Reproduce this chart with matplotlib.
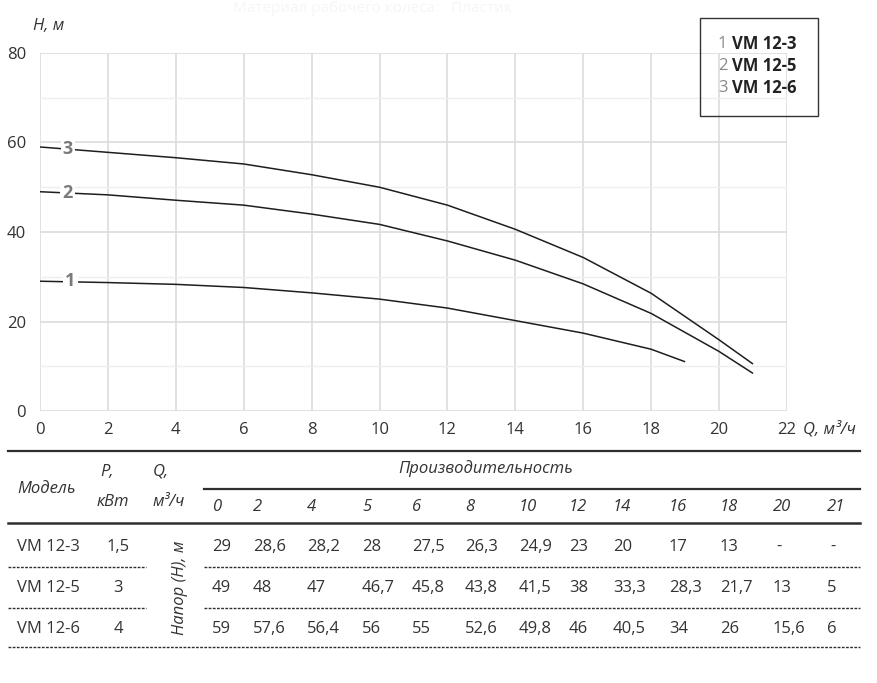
import matplotlib.pyplot as plt
from matplotlib.lines import Line2D
from matplotlib.patches import Rectangle

plt.rcParams['font.family'] = ['Open Sans', 'DejaVu Sans']

# curves
q1 = [0, 2, 4, 6, 8, 10, 12, 14, 16, 18, 19]
h1 = [29.0, 28.7, 28.3, 27.6, 26.4, 25.0, 23.0, 20.2, 17.4, 13.8, 11.0]
q2 = [0, 2, 4, 6, 8, 10, 12, 14, 16, 18, 20, 21]
h2 = [49.0, 48.3, 47.1, 46.0, 44.0, 41.7, 38.0, 33.7, 28.4, 21.8, 13.3, 8.4]
q3 = [0, 2, 4, 6, 8, 10, 12, 14, 16, 18, 20, 21]
h3 = [59.0, 57.8, 56.6, 55.2, 52.8, 50.0, 46.0, 40.6, 34.3, 26.3, 15.9, 10.5]

models = ['VM 12-3', 'VM 12-5', 'VM 12-6']
power = ['1,5', '3', '4']
flows = ['0', '2', '4', '5', '6', '8', '10', '12', '14', '16', '18', '20', '21']
heads = [
    ['29', '28,6', '28,2', '28', '27,5', '26,3', '24,9', '23', '20', '17', '13', '-', '-'],
    ['49', '48', '47', '46,7', '45,8', '43,8', '41,5', '38', '33,3', '28,3', '21,7', '13', '5'],
    ['59', '57,6', '56,4', '56', '55', '52,6', '49,8', '46', '40,5', '34', '26', '15,6', '6'],
]

W, H = 878, 683
fig = plt.figure(figsize=(W / 100, H / 100), dpi=100)
txt = '#333333'


def fx(x):
    return x / W


def fy(y):
    return 1 - y / H


def ftext(x, y, s, **kw):
    kw.setdefault('color', txt)
    kw.setdefault('fontsize', 12)
    fig.text(fx(x), fy(y), s, **kw)


def fline(x0, x1, y, **kw):
    fig.add_artist(Line2D([fx(x0), fx(x1)], [fy(y), fy(y)],
                          transform=fig.transFigure, **kw))


# ---- chart ----
ax = fig.add_axes([fx(40), fy(411), (787 - 40) / W, (411 - 53) / H])
ax.set_xlim(0, 22)
ax.set_ylim(0, 80)
ax.set_xticks(range(0, 23, 2))
ax.set_yticks([0, 20, 40, 60, 80])
ax.set_yticks([10, 30, 50, 70], minor=True)
ax.grid(True, which='major', color='#dcdcdc', lw=1.2)
ax.grid(True, which='minor', axis='y', color='#eeeeee', lw=1.0)
for s in ax.spines.values():
    s.set_visible(False)
ax.tick_params(which='both', length=0)
ax.tick_params(labelsize=12, labelcolor=txt, pad=8)
ax.tick_params(axis='y', pad=10)

for q, h in [(q1, h1), (q2, h2), (q3, h3)]:
    ax.plot(q, h, color='#1e1e1e', lw=1.1, solid_capstyle='butt')

for lab, yv, xv in [('3', 58.6, 0.82), ('2', 48.7, 0.82), ('1', 29.0, 0.9)]:
    ax.text(xv, yv, lab, color='#7a7a7a', fontsize=13, fontweight='bold',
            ha='center', va='center',
            bbox=dict(boxstyle='square,pad=0.12', fc='white', ec='none'))

ftext(33, 26, 'H, м', fontstyle='italic', va='center')
ftext(803, 429, 'Q, м³/ч', fontstyle='italic', va='center')
ftext(372, 9, 'Материал рабочего колеса:   Пластик', color='#f6f6f6',
      ha='center', va='center', fontsize=11)

# legend box
fig.add_artist(Rectangle((fx(700), fy(116)), (818 - 700) / W, (116 - 18) / H,
                         transform=fig.transFigure, fill=False,
                         ec='#333333', lw=1.0))
for i, m in enumerate(models):
    ftext(718, 44 + 22 * i, str(i + 1), color='#888888', va='center')
    ftext(732, 44 + 22 * i, m, fontweight='bold', color='#222222', va='center')

# ---- table ----
tl = '#2e2e2e'
fline(8, 860, 451, color=tl, lw=1.6)
fline(204, 860, 489, color=tl, lw=1.6)
fline(8, 860, 523, color=tl, lw=1.8)
for y in (567, 608):
    fline(8, 146, y, color=tl, lw=1.0, ls=(0, (2, 1)))
    fline(204, 860, y, color=tl, lw=1.0, ls=(0, (2, 1)))
fline(8, 860, 647, color=tl, lw=1.0, ls=(0, (2, 1)))

ftext(17, 489, 'Модель', fontstyle='italic', va='center')
ftext(100, 472, 'P,', fontstyle='italic', va='center')
ftext(97, 502, 'кВт', fontstyle='italic', va='center')
ftext(153, 472, 'Q,', fontstyle='italic', va='center')
ftext(153, 502, 'м³/ч', fontstyle='italic', va='center')
ftext(486, 469, 'Производительность', fontstyle='italic', ha='center', va='center')
ftext(180, 588, 'Напор (Н), м', fontstyle='italic', rotation=90,
      ha='center', va='center')

col_x = [212, 253, 307, 362, 412, 465, 519, 569, 613, 669, 720, 773, 827]
for x, f in zip(col_x, flows):
    ftext(x, 507, f, fontstyle='italic', va='center')

row_y = [547, 588, 629]
for r, y in enumerate(row_y):
    ftext(17, y, models[r], va='center')
    ftext(118, y, power[r], ha='center', va='center')
    for x, v in zip(col_x, heads[r]):
        ftext(x + (3 if v == '-' else 0), y, v, va='center')

fig.savefig('out.png', dpi=100)
